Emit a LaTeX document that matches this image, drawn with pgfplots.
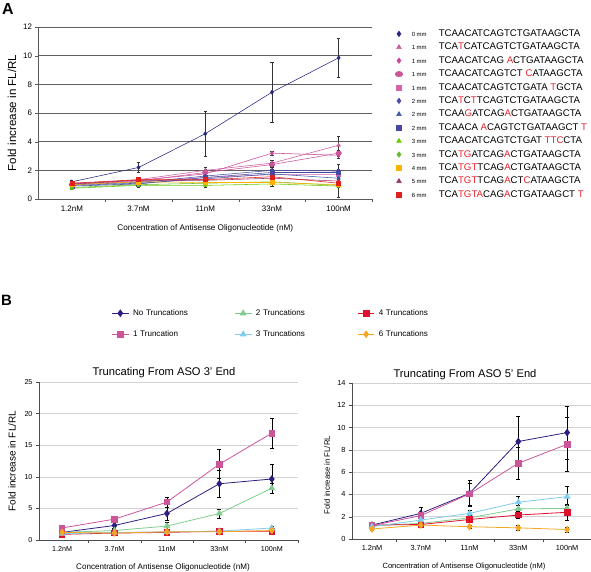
\documentclass[border=0pt]{standalone}
\usepackage{pgfplots}
\pgfplotsset{compat=1.18}
\usepackage{fontspec}
\setmainfont{Liberation Sans}
\definecolor{aNavy}{HTML}{262680}
\definecolor{aPinkT}{HTML}{CC5C9E}
\definecolor{aPinkD}{HTML}{C8479A}
\definecolor{aPinkC}{HTML}{CC5599}
\definecolor{aPinkS}{HTML}{D266A8}
\definecolor{aBlueD}{HTML}{4A4AA6}
\definecolor{aBlueT}{HTML}{3A5AA6}
\definecolor{aBlueS}{HTML}{4848A0}
\definecolor{aGreenT}{HTML}{66CC00}
\definecolor{aGreenD}{HTML}{66BB33}
\definecolor{aOrange}{HTML}{FFB300}
\definecolor{aMaroon}{HTML}{993366}
\definecolor{aRed}{HTML}{E0201B}
\definecolor{seqred}{HTML}{E8212B}
\definecolor{bNavy}{HTML}{2B1F80}
\definecolor{bPink}{HTML}{CC5599}
\definecolor{bGreen}{HTML}{7FCC8F}
\definecolor{bBlue}{HTML}{7FCCEE}
\definecolor{bRed}{HTML}{E0102F}
\definecolor{bOrange}{HTML}{F5A623}
\newcommand{\R}[1]{\textcolor{seqred}{#1}}
\newcommand{\mm}[1]{\makebox[27bp][l]{\fontsize{6}{6}\selectfont #1}}
\begin{document}
\begin{tikzpicture}
\path[use as bounding box] (0,0) rectangle (591bp,572bp);
\node[anchor=base west, inner sep=0, font=\fontsize{16}{16}\selectfont\bfseries] at (2bp,557bp) {A};
\node[anchor=base west, inner sep=0, font=\fontsize{15}{15}\selectfont\bfseries] at (1bp,266bp) {B};

% ---------------- Panel A ----------------
\begin{axis}[
  at={(38.5bp,373bp)}, anchor=south west, scale only axis,
  width=333.5bp, height=172bp,
  xmin=-0.5, xmax=4.5, ymin=0, ymax=12,
  axis lines=left, axis line style={-, draw=gray!70!black, line width=0.6pt},
  ytick={0,2,...,12},
  xtick={0,...,4}, xticklabels={1.2nM,3.7nM,11nM,33nM,100nM},
  minor xtick={0.5,1.5,2.5,3.5,4.5},
  major x tick style={draw=none},
  minor x tick style={draw=gray!70!black},
  tick align=outside, major tick length=3bp, minor tick length=3bp,
  ytick style={draw=gray!70!black},
  ymajorgrids, major grid style={draw=gray!75!black, line width=0.6pt},
  tick label style={font=\fontsize{8}{9}\selectfont},
  /pgf/number format/assume math mode=true,
  xlabel={Concentration of Antisense Oligonucleotide (nM)},
  ylabel={Fold increase in FL/RL},
  xlabel style={font=\fontsize{8.2}{9}\selectfont, at={(axis description cs:0.5,0)}, anchor=center, yshift=-29bp},
  ylabel style={font=\fontsize{11.6}{12}\selectfont, at={(axis description cs:0,0.5)}, anchor=center, rotate=0, yshift=26.5bp},
  error bars/y dir=both, error bars/y explicit,
  error bars/error bar style={draw=gray!40!black, line width=0.4pt},
  error bars/error mark options={rotate=90, mark size=1.6bp, draw=gray!40!black, line width=0.4pt},
  every axis plot/.append style={line width=0.55pt, mark size=2bp},
  legend image code/.code={\draw[#1, only marks, every mark/.append style={scale=1.35}] plot coordinates {(0bp,0bp)};},
  legend style={draw=none, fill=none, at={(axis description cs:1,1)}, anchor=north west, xshift=23bp, yshift=0bp,
    font=\fontsize{9.7}{10}\selectfont, row sep=0pt, inner sep=0pt,
    nodes={inner xsep=0bp, inner ysep=1bp, text height=8.4bp, text depth=3bp},
    /tikz/every odd column/.style={column sep=9bp}},
  legend cell align=left,
]
\addplot[color=aNavy, mark=diamond*] table[x=x,y=y,y error=e] {
x y e
0 1.2 0.08
1 2.2 0.35
2 4.55 1.58
3 7.45 2.12
4 9.85 1.35
};
\addlegendentry{\mm{0 mm}TCAACATCAGTCTGATAAGCTA}
\addplot[color=aPinkT, mark=triangle*] table[x=x,y=y,y error=e] {
x y e
0 1.0 0.1
1 1.35 0.15
2 2.0 0.2
3 2.5 0.2
4 3.75 0.65
};
\addlegendentry{\mm{1 mm}TCA\R{T}CATCAGTCTGATAAGCTA}
\addplot[color=aPinkD, mark=diamond*] table[x=x,y=y,y error=e] {
x y e
0 1.1 0.1
1 1.3 0.1
2 1.75 0.2
3 3.2 0.15
4 3.05 0.2
};
\addlegendentry{\mm{1 mm}TCAACATCAG \R{A}CTGATAAGCTA}
\addplot[color=aPinkC, mark=*, mark options={xscale=1.4}] table[x=x,y=y,y error=e] {
x y e
0 1.0 0.1
1 1.25 0.1
2 1.85 0.2
3 2.4 0.15
4 3.2 0.2
};
\addlegendentry{\mm{1 mm}TCAACATCAGTCT \R{C}ATAAGCTA}
\addplot[color=aPinkS, mark=square*] table[x=x,y=y,y error=e] {
x y e
0 1.05 0.1
1 1.2 0.1
2 1.5 0.15
3 1.7 0.15
4 1.7 0.2
};
\addlegendentry{\mm{1 mm}TCAACATCAGTCTGATA \R{T}GCTA}
\addplot[color=aBlueD, mark=diamond*] table[x=x,y=y,y error=e] {
x y e
0 1.0 0.1
1 1.15 0.1
2 1.6 0.2
3 2.0 0.2
4 1.95 0.45
};
\addlegendentry{\mm{2 mm}TCA\R{T}C\R{T}TCAGTCTGATAAGCTA}
\addplot[color=aBlueT, mark=triangle*] table[x=x,y=y,y error=e] {
x y e
0 0.95 0.1
1 1.1 0.1
2 1.4 0.15
3 1.75 0.15
4 1.45 0.2
};
\addlegendentry{\mm{2 mm}TCAA\R{G}ATCAG\R{A}CTGATAAGCTA}
\addplot[color=aBlueS, mark=square*] table[x=x,y=y,y error=e] {
x y e
0 0.9 0.1
1 1.05 0.1
2 1.5 0.15
3 1.85 0.2
4 1.85 0.2
};
\addlegendentry{\mm{2 mm}TCAACA \R{A}CAGTCTGATAAGCT \R{T}}
\addplot[color=aGreenT, mark=triangle*] table[x=x,y=y,y error=e] {
x y e
0 0.75 0.08
1 0.95 0.1
2 0.95 0.1
3 1.05 0.15
4 0.9 0.75
};
\addlegendentry{\mm{3 mm}TCAACATCAGTCTGAT \R{TTC}CTA}
\addplot[color=aGreenD, mark=diamond*] table[x=x,y=y,y error=e] {
x y e
0 0.8 0.08
1 1.0 0.1
2 1.1 0.1
3 1.2 0.1
4 0.95 0.15
};
\addlegendentry{\mm{3 mm}TCA\R{TG}ATCAG\R{A}CTGATAAGCTA}
\addplot[color=aOrange, mark=square*] table[x=x,y=y,y error=e] {
x y e
0 1.0 0.1
1 1.2 0.1
2 1.15 0.1
3 1.15 0.1
4 1.0 0.1
};
\addlegendentry{\mm{4 mm}TCA\R{TGT}TCAG\R{A}CTGATAAGCTA}
\addplot[color=aMaroon, mark=triangle*] table[x=x,y=y,y error=e] {
x y e
0 1.05 0.1
1 1.3 0.1
2 1.3 0.1
3 1.45 0.15
4 1.25 0.15
};
\addlegendentry{\mm{5 mm}TCA\R{TGT}TCAG\R{A}CT\R{C}ATAAGCTA}
\addplot[color=aRed, mark=square*] table[x=x,y=y,y error=e] {
x y e
0 1.1 0.1
1 1.35 0.1
2 1.35 0.1
3 1.55 0.15
4 1.1 0.15
};
\addlegendentry{\mm{6 mm}TCA\R{TGTA}CAG\R{A}CTGATAAGCT \R{T}}
\end{axis}

% ---------------- Panel B left ----------------
\begin{axis}[
  at={(39bp,32bp)}, anchor=south west, scale only axis,
  width=259bp, height=158bp,
  xmin=-0.44, xmax=4.5, ymin=0, ymax=25,
  axis lines=left, axis line style={-, draw=gray!60!black, line width=0.5pt},
  ytick={0,5,...,25},
  xtick={0,...,4}, xticklabels={1.2nM,3.7nM,11nM,33nM,100nM},
  minor xtick={0.5,1.5,2.5,3.5,4.5},
  major x tick style={draw=none},
  minor x tick style={draw=gray!60!black},
  tick align=outside, major tick length=3bp, minor tick length=3bp,
  ytick style={draw=gray!60!black},
  ymajorgrids, major grid style={draw=gray!35, line width=0.5pt},
  tick label style={font=\fontsize{7.2}{8}\selectfont},
  /pgf/number format/assume math mode=true,
  title={Truncating From ASO 3' End},
  title style={font=\fontsize{11.2}{12}\selectfont, at={(axis description cs:0.5,1)}, anchor=center, yshift=3bp, xshift=-4.5bp},
  xlabel={Concentration of Antisense Oligonucleotide (nM)},
  ylabel={Fold increase in FL/RL},
  xlabel style={font=\fontsize{8.1}{9}\selectfont, at={(axis description cs:0.5,0)}, anchor=center, yshift=-27bp, xshift=-5.5bp},
  ylabel style={font=\fontsize{10}{11}\selectfont, at={(axis description cs:0,0.5)}, anchor=center, rotate=0, yshift=27bp},
  error bars/y dir=both, error bars/y explicit,
  error bars/error bar style={draw=black, line width=0.4pt},
  error bars/error mark options={rotate=90, mark size=2bp, draw=black, line width=0.4pt},
  every axis plot/.append style={line width=0.8pt, mark size=2.8bp},
  legend image code/.code={\draw[#1, mark repeat=2, mark phase=2] plot coordinates {(0bp,0bp) (8.3bp,0bp) (16.6bp,0bp)};},
  legend columns=3,
  legend style={draw=none, fill=none, at={(axis description cs:0.2796,1.468)}, anchor=north west,
    font=\fontsize{8.1}{9}\selectfont, row sep=11bp, inner sep=0pt,
    nodes={inner xsep=0bp, inner ysep=1bp, text height=6bp, text depth=2bp, text width=101.5bp, align=left},
    /tikz/every odd column/.style={column sep=4bp}},
  legend cell align=left,
]
\addplot[color=bNavy, mark=diamond*, mark size=3.2bp] table[x=x,y=y,y error=e] {
x y e
0 1.2 0.1
1 2.3 0.5
2 4.2 1.05
3 8.9 2.1
4 9.65 2.3
};
\addlegendentry{No Truncations}
\addplot[color=bGreen, mark=triangle*, mark size=3.2bp] table[x=x,y=y,y error=e] {
x y e
0 1.2 0.1
1 1.5 0.2
2 2.2 0.6
3 4.2 0.7
4 8.2 0.8
};
\addlegendentry{2 Truncations}
\addplot[color=bRed, mark=square*] table[x=x,y=y,y error=e] {
x y e
0 0.9 0.1
1 1.1 0.1
2 1.2 0.1
3 1.4 0.2
4 1.4 0.2
};
\addlegendentry{4 Truncations}
\addplot[color=bPink, mark=square*] table[x=x,y=y,y error=e] {
x y e
0 1.9 0.2
1 3.3 0.4
2 6.0 0.8
3 12.0 2.3
4 16.9 2.4
};
\addlegendentry{1 Truncation}
\addplot[color=bBlue, mark=triangle*, mark size=3.2bp] table[x=x,y=y,y error=e] {
x y e
0 1.0 0.1
1 1.2 0.1
2 1.3 0.1
3 1.4 0.2
4 1.9 0.3
};
\addlegendentry{3 Truncations}
\addplot[color=bOrange, mark=diamond*, mark size=3.2bp] table[x=x,y=y,y error=e] {
x y e
0 1.2 0.1
1 1.1 0.1
2 1.3 0.1
3 1.3 0.1
4 1.5 0.2
};
\addlegendentry{6 Truncations}
\end{axis}

% ---------------- Panel B right ----------------
\begin{axis}[
  at={(352bp,33bp)}, anchor=south west, scale only axis,
  width=239bp, height=156bp,
  xmin=-0.41, xmax=4.49, ymin=0, ymax=14,
  axis lines=left, axis line style={-, draw=gray!60!black, line width=0.5pt},
  ytick={0,2,...,14},
  xtick={0,...,4}, xticklabels={1.2nM,3.7nM,11nM,33nM,100nM},
  minor xtick={0.5,1.5,2.5,3.5},
  major x tick style={draw=none},
  minor x tick style={draw=gray!60!black},
  tick align=outside, major tick length=3bp, minor tick length=3bp,
  ytick style={draw=gray!60!black},
  ymajorgrids, major grid style={draw=gray!35, line width=0.5pt},
  tick label style={font=\fontsize{7.4}{8}\selectfont},
  /pgf/number format/assume math mode=true,
  title={Truncating From ASO 5' End},
  title style={font=\fontsize{11.2}{12}\selectfont, at={(axis description cs:0.5,1)}, anchor=center, yshift=2bp, xshift=-6.5bp},
  xlabel={Concentration of Antisense Oligonucleotide (nM)},
  ylabel={Fold increase in FL/RL},
  xlabel style={font=\fontsize{7.6}{8}\selectfont, at={(axis description cs:0.5,0)}, anchor=center, yshift=-28bp, xshift=-7.5bp},
  ylabel style={font=\fontsize{7.8}{8}\selectfont, at={(axis description cs:0,0.5)}, anchor=center, rotate=0, yshift=25bp, xshift=-14bp},
  error bars/y dir=both, error bars/y explicit,
  error bars/error bar style={draw=black, line width=0.4pt},
  error bars/error mark options={rotate=90, mark size=2bp, draw=black, line width=0.4pt},
  every axis plot/.append style={line width=0.8pt, mark size=2.8bp},
]
\addplot[color=bNavy, mark=diamond*, mark size=3.2bp] table[x=x,y=y,y error=e] {
x y e
0 1.25 0.1
1 2.3 0.55
2 4.1 1.15
3 8.75 2.25
4 9.55 2.35
};
\addplot[color=bGreen, mark=triangle*, mark size=3.2bp] table[x=x,y=y,y error=e] {
x y e
0 1.2 0.1
1 1.4 0.15
2 1.9 0.2
3 2.7 0.3
4 2.75 0.3
};
\addplot[color=bRed, mark=square*] table[x=x,y=y,y error=e] {
x y e
0 1.25 0.1
1 1.3 0.1
2 1.75 0.2
3 2.15 0.3
4 2.4 0.7
};
\addplot[color=bPink, mark=square*] table[x=x,y=y,y error=e] {
x y e
0 1.2 0.1
1 2.1 0.3
2 4.05 1.0
3 6.8 1.45
4 8.5 2.4
};
\addplot[color=bBlue, mark=triangle*, mark size=3.2bp] table[x=x,y=y,y error=e] {
x y e
0 1.1 0.1
1 1.7 0.2
2 2.3 0.3
3 3.3 0.5
4 3.8 0.95
};
\addplot[color=bOrange, mark=diamond*, mark size=3.2bp] table[x=x,y=y,y error=e] {
x y e
0 0.9 0.1
1 1.25 0.1
2 1.1 0.15
3 1.0 0.2
4 0.85 0.2
};
\end{axis}
\end{tikzpicture}
\end{document}
